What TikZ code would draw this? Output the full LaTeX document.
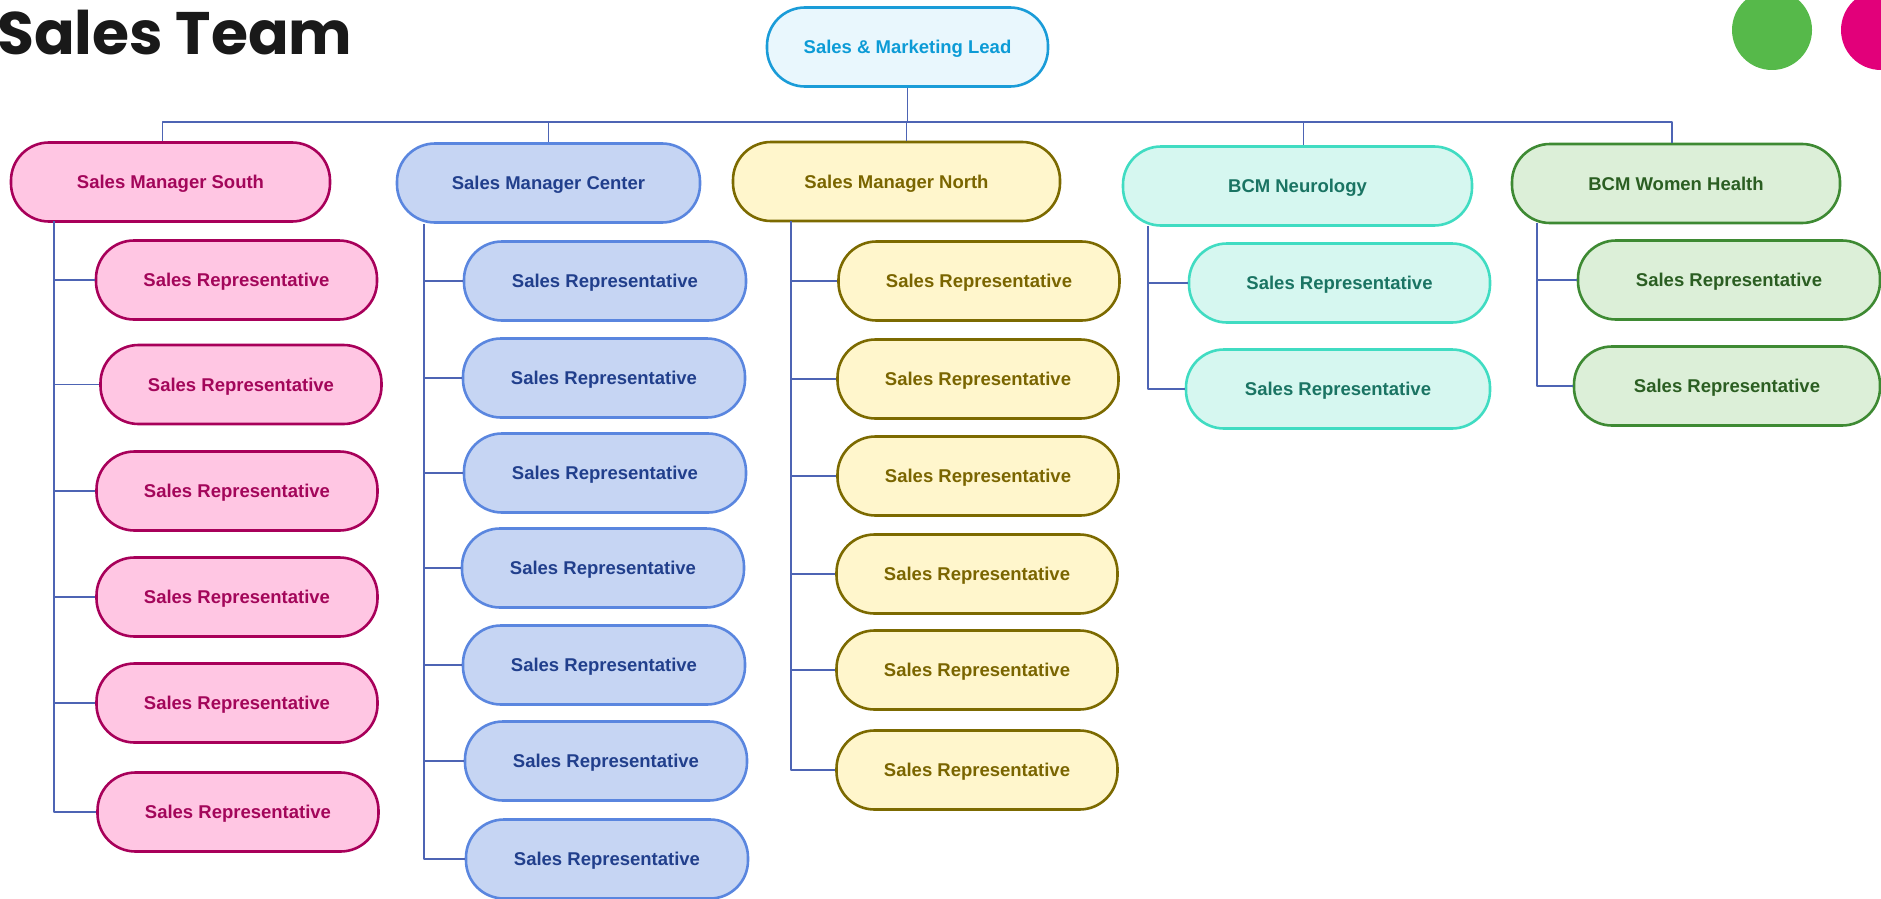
\documentclass[tikz,border=0pt]{standalone}
\usepackage{fontspec}
\setmainfont{Liberation Sans}
\newfontfamily\headfont{Poppins}

\definecolor{linkblue}{HTML}{4D64B4}
\definecolor{leadline}{HTML}{1A9CD8}\definecolor{leadfill}{HTML}{E9F7FD}\definecolor{leadtext}{HTML}{0C9BD6}
\definecolor{southline}{HTML}{A8005A}\definecolor{southfill}{HTML}{FFC6E3}\definecolor{southtext}{HTML}{A3065A}
\definecolor{centerline}{HTML}{5A86DF}\definecolor{centerfill}{HTML}{C6D5F3}\definecolor{centertext}{HTML}{213F8C}
\definecolor{northline}{HTML}{7C6A00}\definecolor{northfill}{HTML}{FFF6CC}\definecolor{northtext}{HTML}{7A6500}
\definecolor{neuroline}{HTML}{40DCC2}\definecolor{neurofill}{HTML}{D6F7F0}\definecolor{neurotext}{HTML}{1A7463}
\definecolor{womenline}{HTML}{3E8A33}\definecolor{womenfill}{HTML}{DCEFD8}\definecolor{womentext}{HTML}{2B5E22}
\definecolor{dotgreen}{HTML}{56B94A}\definecolor{dotpink}{HTML}{E2007A}

\begin{document}
\begin{tikzpicture}[x=1pt,y=-1pt,line join=round,
    pill/.style={rectangle,rounded corners=38pt,line width=2.6pt,minimum height=79pt,inner sep=0pt,
      text depth=0pt,font=\fontsize{18.5}{21}\selectfont\bfseries},
    lead/.style={pill,draw=leadline,fill=leadfill,text=leadtext},
    south/.style={pill,draw=southline,fill=southfill,text=southtext},
    center/.style={pill,draw=centerline,fill=centerfill,text=centertext},
    north/.style={pill,draw=northline,fill=northfill,text=northtext},
    neuro/.style={pill,draw=neuroline,fill=neurofill,text=neurotext},
    women/.style={pill,draw=womenline,fill=womenfill,text=womentext},
    link/.style={draw=linkblue,line width=1.4pt}]
\useasboundingbox (0,0) rectangle (1881,899);
\clip (0,0) rectangle (1881,899);

\node[anchor=base west,inner sep=0pt,font=\headfont\bfseries\fontsize{60}{70}\selectfont,text=black!90] (title) at (-3,55) {Sales Team};
\fill[dotgreen] (1772,30) circle (40);
\fill[dotpink] (1881,30) circle (40);

% head and managers
\node[lead,minimum width=281pt] (lead) at (907.5,47) {Sales \& Marketing Lead};
\node[south,minimum width=319pt] (mgrS) at (170.5,182) {Sales Manager South};
\node[center,minimum width=303pt] (mgrC) at (548.5,183) {Sales Manager Center};
\node[north,minimum width=327pt] (mgrN) at (896.5,181.5) {Sales Manager North};
\node[neuro,minimum width=349pt] (bcmN) at (1297.5,186) {BCM Neurology};
\node[women,minimum width=328pt] (bcmW) at (1676,183.5) {BCM Women Health};

\coordinate (bus) at (907.5,122);
\draw[link] (lead.south) -- (bus);
\draw[link] (bus) -| ([xshift=-8pt]mgrS.north);
\draw[link] (bus) -| (mgrC.north);
\draw[link] (bus) -| ([xshift=10pt]mgrN.north);
\draw[link] (bus) -| ([xshift=6pt]bcmN.north);
\draw[link] (bus) -| ([xshift=-4pt]bcmW.north);

% representatives
\foreach \i/\x/\y in {1/236.5/280,2/241/384.5,3/237/491,4/237/597,5/237/703,6/238/812}{
  \node[south,minimum width=281pt] (repS\i) at (\x,\y) {Sales Representative};
  \draw[link] (54,221) |- (repS\i.west);
}
\foreach \i/\x/\y in {1/605/281,2/604/378,3/605/473,4/603/568,5/604/665,6/606/761,7/607/859}{
  \node[center,minimum width=282pt] (repC\i) at (\x,\y) {Sales Representative};
  \draw[link] (424,224) |- (repC\i.west);
}
\foreach \i/\x/\y in {1/979/281,2/978/379,3/978/476,4/977/574,5/977/670,6/977/770}{
  \node[north,minimum width=281pt] (repN\i) at (\x,\y) {Sales Representative};
  \draw[link] (791,221) |- (repN\i.west);
}
\foreach \i/\x/\y/\w in {1/1339.5/283/301,2/1338/389/304}{
  \node[neuro,minimum width=\w pt] (repB\i) at (\x,\y) {Sales Representative};
  \draw[link] (1148,226) |- (repB\i.west);
}
\foreach \i/\x/\y/\w in {1/1729/280/302,2/1727/386/306}{
  \node[women,minimum width=\w pt] (repW\i) at (\x,\y) {Sales Representative};
  \draw[link] (1537,223) |- (repW\i.west);
}
\end{tikzpicture}
\end{document}
